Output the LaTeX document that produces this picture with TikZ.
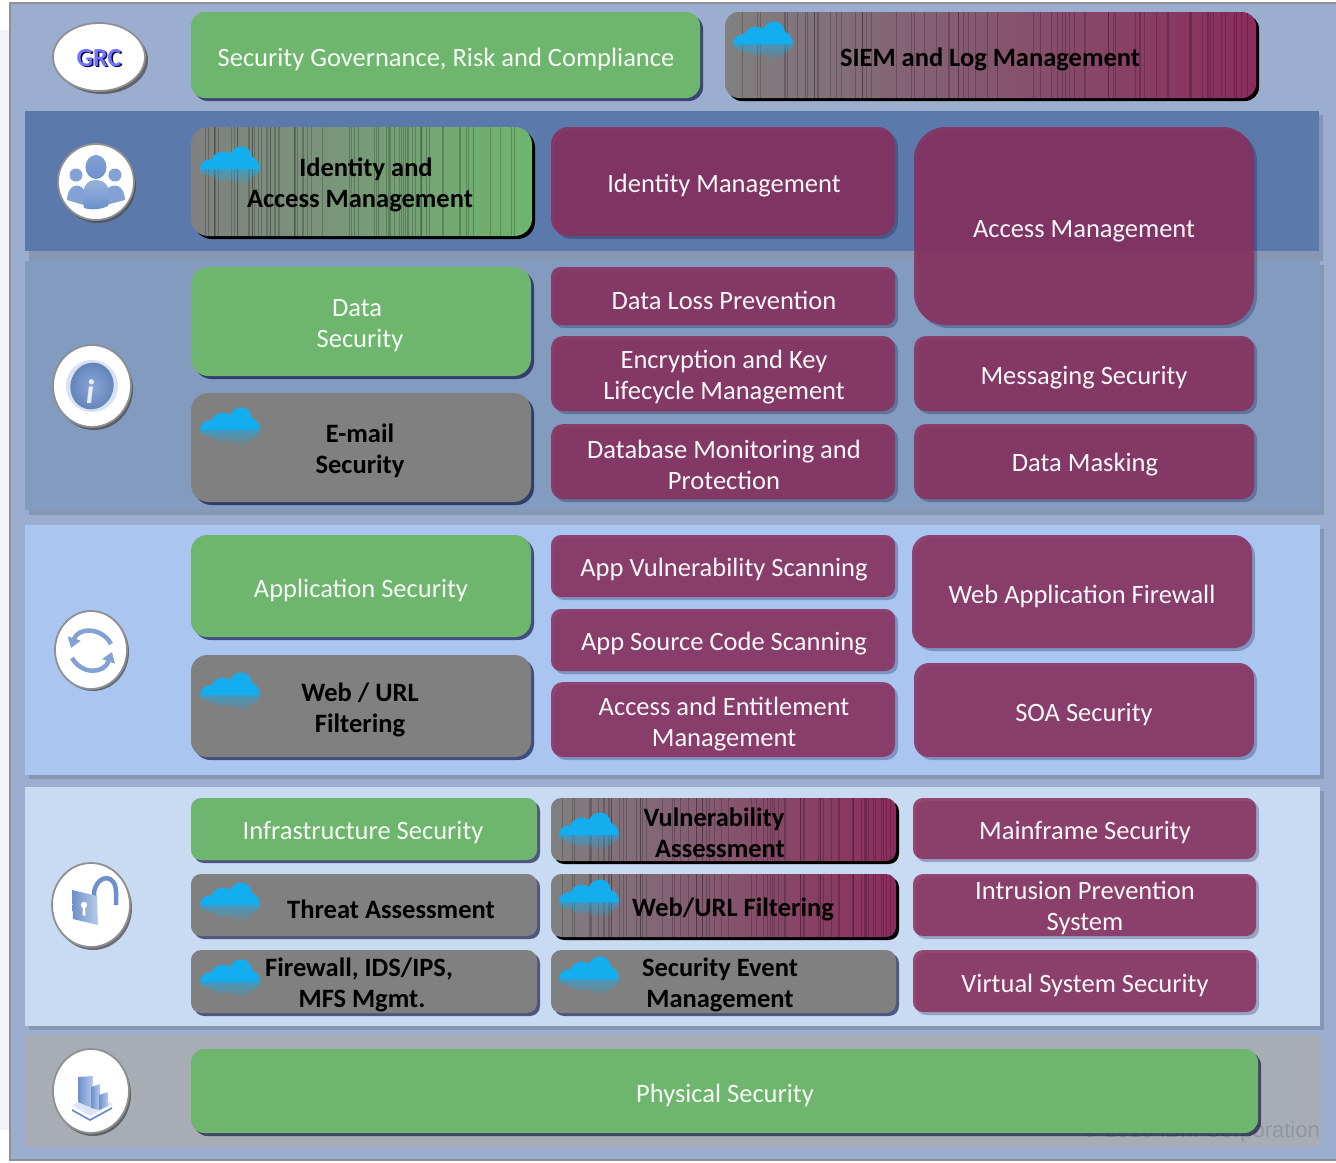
\documentclass[tikz,border=0pt]{standalone}
\usepackage{fontspec}
\setmainfont{Carlito}
\newfontfamily\wmfont{Liberation Sans}
\usetikzlibrary{calc,fadings,arrows.meta,shapes.geometric}
\definecolor{framefill}{HTML}{9BAECF}
\definecolor{frameline}{HTML}{8E9094}
\definecolor{bandA}{HTML}{5B7AAB}
\definecolor{bandB}{HTML}{829BBF}
\definecolor{bandC}{HTML}{A9C5F0}
\definecolor{bandD}{HTML}{C9DAF3}
\definecolor{bandE}{HTML}{A8ADB5}
\definecolor{gr}{HTML}{6EB56E}
\definecolor{gy}{HTML}{808080}
\definecolor{pu}{RGB}{138,46,92}
\definecolor{puend}{HTML}{8B2C5C}
\definecolor{skyc}{HTML}{13AEF0}
\definecolor{icon}{HTML}{6C90CC}
\definecolor{iconl}{HTML}{B9CBE8}
\tikzset{
  boxbase/.style={inner sep=0pt,outer sep=0pt,rectangle},
  stripes/.style={path picture={
     \pgfmathsetseed{#1}
     \foreach \k in {1,...,70}{
       \pgfmathsetmacro\r{rnd}
       \draw[black,opacity=.2,line width=.45pt]
         ($(path picture bounding box.south west)!\r!(path picture bounding box.south east)$) --
         ($(path picture bounding box.north west)!\r!(path picture bounding box.north east)$);
     }}},
  greenbox/.style={boxbase,fill=gr},
  greyboxx/.style={boxbase,fill=gy},
  purplebox/.style={boxbase,fill=pu,fill opacity=.85},
  gradP/.style={boxbase,left color=gy,right color=puend,stripes=7},
  gradG/.style={boxbase,left color=gy,right color=gr,stripes=11},
  greenboxsh/.style={fill=black!80!blue,opacity=.6},
  greyboxxsh/.style={fill=black!80!blue,opacity=.6},
  purpleboxsh/.style={fill=black!80!blue,opacity=.25},
  gradPsh/.style={fill=black},
  gradGsh/.style={fill=black},
  greenboxlab/.style={lab,text=white!94!gr},
  purpleboxlab/.style={lab,text=white!96!pu},
  greyboxxlab/.style={lab,text=black,font=\fontsize{26.5}{31}\selectfont\bfseries},
  gradPlab/.style={greyboxxlab},
  gradGlab/.style={greyboxxlab},
  lab/.style={inner sep=0pt,align=center,font=\fontsize{26.5}{31}\selectfont},
  bandshadow/.style={fill=black,opacity=.13},
  medallion/.style={ellipse,fill=white,draw=frameline,line width=1.8pt,inner sep=0pt},
  medshadow/.style={fill=black!70,opacity=.75},
  cloudtop/.style={fill=skyc},
  cloudrefl/.style={fill=skyc,fill opacity=.55,path fading=south},
  glyph/.style={fill=icon,draw=none},
  syncarrow/.style={icon!85!white,line width=4.5pt,-{Triangle[length=10pt,width=13pt]}},
}
% name x1 y1 x2 y2 style tx ty text
\newcommand\bx[9]{%
  \pgfmathsetmacro\bxw{#4-#2}\pgfmathsetmacro\bxh{#5-#3}%
  \pgfmathsetmacro\bxcx{(#2+#4)/2}\pgfmathsetmacro\bxcy{(#3+#5)/2}%
  \pgfmathsetmacro\bxrad{.16*\bxh}%
  \path[#6sh,rounded corners=\bxrad pt] (#2+3,#3+3) rectangle (#4+3,#5+3);
  \node[#6,rounded corners=\bxrad pt,minimum width=\bxw pt,minimum height=\bxh pt] (#1) at (\bxcx,\bxcy) {};
  \ifx\cloudx\empty\else\mkcloud{\cloudx}{\cloudy}\fi
  \node[#6lab] (#1-text) at (#7,#8+2) {#9};
  \gdef\cloudx{}%
}
\newcommand\mkcloud[2]{%
  \begin{scope}[shift={(#1-1,#2)}]
    \begin{scope}[yscale=-.68]
      \path[cloudrefl] (0,0) .. controls (0,-6) and (5,-10) .. (12,-10) .. controls (15,-18) and (25,-19) .. (30,-15) .. controls (34,-25) and (50,-26) .. (52,-12) .. controls (57,-11) and (60,-5) .. (60,0) -- cycle;
    \end{scope}
    \path[cloudtop] (0,0) .. controls (0,-6) and (5,-10) .. (12,-10) .. controls (15,-18) and (25,-19) .. (30,-15) .. controls (34,-25) and (50,-26) .. (52,-12) .. controls (57,-11) and (60,-5) .. (60,0) -- cycle;
  \end{scope}%
}
\newcommand\cl[2]{\gdef\cloudx{#1}\gdef\cloudy{#2}}
\gdef\cloudx{}
\begin{document}
\begin{tikzpicture}[x=1pt,y=-1pt]
\useasboundingbox (0,0) rectangle (1336,1162);
% frame
\fill[white] (0,0) rectangle (1336,1162);
\fill[framefill!15!white] (0,30) rectangle (10,1130);
\fill[framefill] (10,3) rectangle (1336,1160);
\draw[frameline,line width=1.5pt] (1336,3) -- (10,3) -- (10,1160) -- (1336,1160);
% bands
\path[bandshadow] (29,115) rectangle (1323,261);
\fill[bandA] (25,111) rectangle (1319,251);
\path[bandshadow] (29,265) rectangle (1324,515);
\fill[bandB] (25,261) rectangle (1320,510);
\path[bandshadow] (29,529) rectangle (1324,779);
\fill[bandC] (25,525) rectangle (1320,775);
\path[bandshadow] (29,791) rectangle (1324,1030);
\fill[bandD] (25,787) rectangle (1320,1026);
\fill[bandE] (25,1035) rectangle (1320,1147);
\node[anchor=east,inner sep=0pt,text=black!13!bandE,font=\wmfont\fontsize{22}{26}\selectfont] (copyright) at (1320,1132) {© 2010 IBM Corporation};
% medallions
\path[medshadow] (102,60) ellipse (46 and 34);
\node[medallion,minimum width=92pt,minimum height=68pt] (mGRC) at (99,57) {};
\node[text=black!75!blue,font=\fontsize{26}{30}\selectfont\bfseries,inner sep=0pt] (grcshade) at (100.5,59.5) {GRC};
\node[font=\fontsize{26}{30}\selectfont\bfseries,inner sep=0pt,text=blue!55!white] (grc) at (99,58) {GRC};
\path[medshadow] (98,185) ellipse (38 and 38);
\node[medallion,minimum width=76pt,minimum height=76pt] (mPeople) at (96,182) {};
\path[glyph,fill=icon!85!white] (76,175) circle (6.5);
\path[glyph,fill=icon!85!white] (115,175) circle (6.5);
\path[glyph,fill=icon!85!white] (67,200) .. controls (68,183) and (80,183) .. (84,190) -- (84,205) -- cycle;
\path[glyph,fill=icon!85!white] (125,200) .. controls (124,183) and (112,183) .. (106,190) -- (106,205) -- cycle;
\path[top color=icon!85!white,bottom color=icon] (96,167) ellipse (10.5 and 12);
\path[top color=icon!70!white,bottom color=icon] (84,208) .. controls (80,188) and (86,180) .. (96,180) .. controls (106,180) and (112,188) .. (108,206) .. controls (100,210) and (90,210) .. (84,208) -- cycle;
\path[medshadow] (94,389) ellipse (39 and 41);
\node[medallion,minimum width=78pt,minimum height=82pt] (mInfo) at (92,386) {};
\path[fill=iconl!55!white,rotate around={-15:(92,386)}] (92,386) ellipse (26 and 26);
\path[inner color=icon!80!white,outer color=icon!90!black,rotate around={-15:(92,386)}] (92,386) ellipse (21.5 and 23.5);
\node[text=white!85!icon,font=\fontsize{34}{34}\selectfont\bfseries\itshape,inner sep=0pt] (infoi) at (90,392) {i};
\path[medshadow] (93,652) ellipse (36 and 39);
\node[medallion,minimum width=72pt,minimum height=78pt] (mSync) at (91,650) {};
\draw[syncarrow] (111,644) .. controls (102,627) and (78,627) .. (71,648);
\draw[syncarrow] (72,658) .. controls (82,675) and (104,674) .. (112,652);
\path[medshadow] (93,908) ellipse (39 and 42);
\node[medallion,minimum width=78pt,minimum height=84pt] (mLock) at (91,905) {};
\draw[icon,line width=4.5pt] (116,905) -- (116,892) .. controls (116,874) and (98,873) .. (94,892) -- (94,896);
\path[left color=icon,right color=iconl] (72,890) -- (97,896) -- (98,925) -- (73,919) -- cycle;
\path[fill=white] (84,905) circle (3.2);
\path[fill=white] (83,906) -- (85,906) -- (85.5,916) -- (82.5,915) -- cycle;
\path[medshadow] (93,1094) ellipse (38 and 42);
\node[medallion,minimum width=76pt,minimum height=84pt] (mPhys) at (91,1091) {};
\path[fill=iconl!50!white] (72,1105) -- (90,1116) -- (113,1104) -- (96,1095) -- cycle;
\path[fill=icon] (72,1109) -- (90,1119) -- (112,1107) -- (112,1109) -- (90,1121) -- (72,1111) -- cycle;
\path[left color=icon,right color=iconl] (78,1077) -- (93,1076) -- (92,1108) -- (78,1102) -- cycle;
\path[left color=icon,right color=iconl] (91,1087) -- (100,1084) -- (100,1110) -- (91,1108) -- cycle;
\path[left color=icon,right color=iconl] (99,1095) -- (108,1092) -- (108,1106) -- (99,1110) -- cycle;
% row 1
\bx{sgrc}{191}{12}{700}{98}{greenbox}{446}{57}{Security Governance, Risk and Compliance}
\cl{734}{44}\bx{siem}{725}{12}{1256}{98}{gradP}{990}{57}{SIEM and Log Management}
% row 2
\cl{201}{169}\bx{iam}{191}{127}{532}{236}{gradG}{360}{183}{\hspace{12pt}Identity and\\Access Management}
\bx{idm}{551}{127}{895}{236}{purplebox}{724}{184}{Identity Management}
\bx{acm}{914}{127}{1254}{325}{purplebox}{1084}{229}{Access Management}
% row 3
\bx{dsec}{191}{267}{531}{376}{greenbox}{360}{324}{\hspace{-6pt}Data\\Security}
\bx{dlp}{551}{267}{895}{325}{purplebox}{724}{298}{Data Loss Prevention}
\bx{ekl}{551}{336}{895}{411}{purplebox}{724}{375}{Encryption and Key\\Lifecycle Management}
\bx{msg}{914}{336}{1254}{411}{purplebox}{1084}{376}{Messaging Security}
\cl{201}{430}\bx{email}{191}{393}{531}{502}{greyboxx}{360}{449}{E-mail\\Security}
\bx{dbm}{551}{424}{895}{499}{purplebox}{724}{463}{Database Monitoring and\\Protection}
\bx{mask}{914}{424}{1254}{499}{purplebox}{1085}{463}{Data Masking}
% row 4
\bx{asec}{191}{535}{531}{637}{greenbox}{361}{588}{Application Security}
\bx{avs}{551}{535}{895}{597}{purplebox}{724}{568}{App Vulnerability Scanning}
\bx{ascs}{551}{609}{895}{671}{purplebox}{724}{642}{App Source Code Scanning}
\bx{aem}{551}{682}{895}{757}{purplebox}{724}{722}{Access and Entitlement\\Management}
\bx{waf}{912}{535}{1252}{648}{purplebox}{1082}{594}{Web Application Firewall}
\bx{soa}{914}{663}{1254}{757}{purplebox}{1084}{713}{SOA Security}
\cl{201}{695}\bx{wurl}{191}{655}{531}{757}{greyboxx}{360}{708}{Web / URL\\Filtering}
% row 5
\bx{infra}{191}{798}{537}{860}{greenbox}{363}{831}{Infrastructure Security}
\cl{560}{835}\bx{vuln}{551}{798}{896}{861}{gradP}{720}{831}{\hspace{-12pt}Vulnerability\\Assessment}
\bx{main}{913}{798}{1256}{859}{purplebox}{1085}{831}{Mainframe Security}
\cl{201}{905}\bx{threat}{191}{874}{537}{936}{greyboxx}{391}{907}{Threat Assessment}
\cl{560}{902}\bx{wfilt}{551}{874}{896}{937}{gradP}{733}{907}{Web/URL Filtering}
\bx{ips}{913}{874}{1256}{936}{purplebox}{1085}{906}{Intrusion Prevention\\System}
\cl{201}{982}\bx{fw}{191}{950}{537}{1013}{greyboxx}{362}{983}{\hspace{-6pt}Firewall, IDS/IPS,\\MFS Mgmt.}
\cl{560}{979}\bx{sem}{551}{950}{896}{1013}{greyboxx}{720}{983}{Security Event\\Management}
\bx{virt}{913}{950}{1256}{1012}{purplebox}{1085}{983}{Virtual System Security}
% row 6
\bx{phys}{191}{1049}{1258}{1133}{greenbox}{725}{1093}{Physical Security}
\end{tikzpicture}
\end{document}
